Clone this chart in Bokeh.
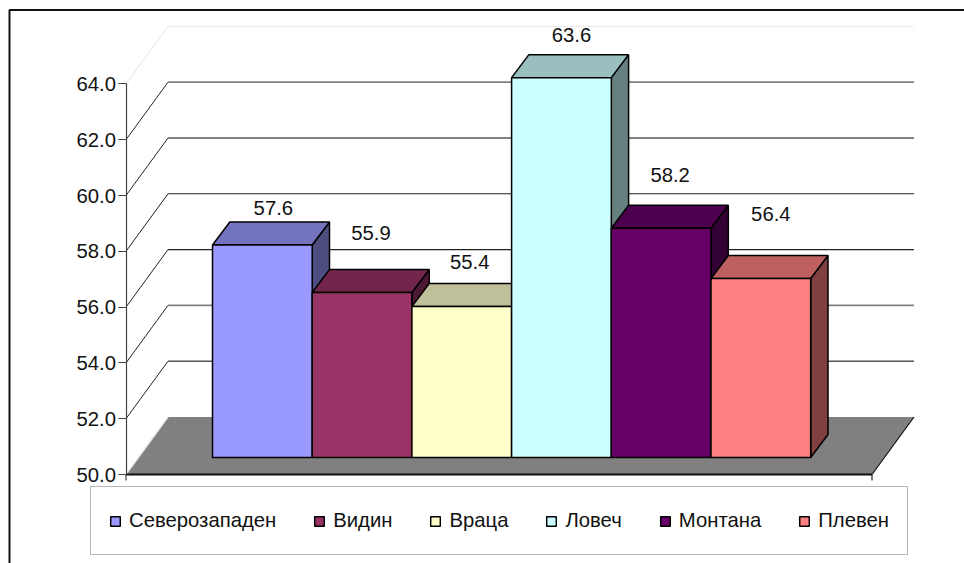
from bokeh.embed import file_html
from bokeh.resources import INLINE
from bokeh.plotting import figure
from bokeh.models import (ColumnDataSource, FixedTicker, Legend, LegendItem,
                          LinearAxis, NumeralTickFormatter, Range1d)

# ---- data -------------------------------------------------------------
categories = ["Северозападен", "Видин", "Враца", "Ловеч", "Монтана", "Плевен"]
values = [57.6, 55.9, 55.4, 63.6, 58.2, 56.4]
tick_values = [50, 52, 54, 56, 58, 60, 62, 64]

# ---- style ------------------------------------------------------------
front_colors = ["#9999FF", "#993366", "#FFFFCC", "#CCFFFF", "#660066", "#FF8080"]
top_colors = ["#7373BF", "#73264C", "#BFBF99", "#99BFBF", "#4D004D", "#BF6060"]
side_colors = ["#4D4D80", "#4D1A33", "#808066", "#668080", "#330033", "#804040"]
label_raise_px = [36, 59, 44, 42, 53, 64]
label_shift_px = [11, 9, 8, 10, 9, 10]
grid_colors = ["#808080", "#555555", "#808080", "#222222", "#222222", "#808080", "#808080", "#EDEDED"]
grid_widths = [1, 1.4, 1.8, 1.1, 1.1, 1.8, 1.8, 1.4]
diag_colors = ["#E8E8E8", "#222222", "#222222", "#222222", "#222222", "#222222", "#222222", "#E4E4E4"]
FONT = "Liberation Sans"
FONT_SIZE = "20.3px"

W, H = 964, 563
BAR_LEFT_PX, BAR_W_PX = 212, 99.7     # pixel position of bar 0 and width of one bar
BASE_PX, UNIT_PX = 474, 27.9          # pixel of value 50 on the axis and px per value unit

x_range = Range1d(-BAR_LEFT_PX / BAR_W_PX, (W - BAR_LEFT_PX) / BAR_W_PX)
y_range = Range1d(50 + (BASE_PX - H) / UNIT_PX, 50 + BASE_PX / UNIT_PX)


def dx(px):
    return px / BAR_W_PX


def dy(px):
    return px / UNIT_PX


def xp(px):
    return (px - BAR_LEFT_PX) / BAR_W_PX


def yp(px):
    return 50 + (BASE_PX - px) / UNIT_PX


AXIS_X = xp(125.5)
FLOOR_END_X = xp(871.5)
WALL_DX, WALL_DY = dx(42), dy(57.5)
BAR_DX, BAR_DY = dx(17.3), dy(23)
BAR_FRONT_DY = dy(17.4)

p = figure(width=W, height=H, x_range=x_range, y_range=y_range,
           output_backend="svg", toolbar_location=None,
           x_axis_location=None, y_axis_location=None,
           min_border=0, outline_line_color=None)
p.grid.visible = False
p.background_fill_color = "white"
p.border_fill_color = "white"

# chart border (only left/top fall inside the window)
p.line(x=[xp(9), xp(9), x_range.end], y=[y_range.start, yp(9.5), yp(9.5)],
       line_color="#111111", line_width=2)

# side wall diagonals and back wall grid
for v, c, dc, w in zip(tick_values, grid_colors, diag_colors, grid_widths):
    if v == 50:
        continue
    p.line(x=[AXIS_X, AXIS_X + WALL_DX], y=[v, v + WALL_DY], line_color=dc, line_width=1)
    p.line(x=[AXIS_X + WALL_DX, FLOOR_END_X + WALL_DX], y=[v + WALL_DY, v + WALL_DY],
           line_color=c, line_width=w)

# floor
p.patch(x=[AXIS_X, AXIS_X + WALL_DX, FLOOR_END_X + WALL_DX, FLOOR_END_X],
        y=[50, 50 + WALL_DY, 50 + WALL_DY, 50], fill_color="#808080", line_color=None)
p.line(x=[AXIS_X, AXIS_X + WALL_DX], y=[50, 50 + WALL_DY], line_color="#E8E8E8", line_width=1.3)
p.line(x=[FLOOR_END_X + WALL_DX, FLOOR_END_X], y=[50 + WALL_DY, 50], line_color="#111111", line_width=1.2)
p.line(x=[AXIS_X, FLOOR_END_X], y=[50, 50], line_color="#111111", line_width=2)
p.line(x=[FLOOR_END_X, FLOOR_END_X], y=[50, 50 - dy(6)], line_color="#222222", line_width=1.2)

# bars
legend_items = []
for i, (name, v) in enumerate(zip(categories, values)):
    x0, x1 = i, i + 1
    y0, y1 = 50 + dy(17), v + BAR_FRONT_DY
    p.patch(x=[x1, x1 + BAR_DX, x1 + BAR_DX, x1],
            y=[y0, y0 + BAR_DY, y1 + BAR_DY, y1],
            fill_color=side_colors[i], line_color="#000000", line_width=1.5)
    p.patch(x=[x0, x0 + BAR_DX, x1 + BAR_DX, x1],
            y=[y1, y1 + BAR_DY, y1 + BAR_DY, y1],
            fill_color=top_colors[i], line_color="#000000", line_width=1.5)
    r = p.quad(left=[x0], right=[x1], bottom=[y0], top=[y1],
               fill_color=front_colors[i], line_color="#000000", line_width=1.5)
    legend_items.append(LegendItem(label=name, renderers=[r]))

# value labels
src = ColumnDataSource(dict(
    x=[i + 0.5 + dx(s) for i, s in enumerate(label_shift_px)],
    y=[v + BAR_FRONT_DY + dy(r + 0.6) for v, r in zip(values, label_raise_px)],
    t=[f"{v:.1f}" for v in values]))
p.text(x="x", y="y", text="t", source=src, text_align="center", text_baseline="middle",
       text_font={"value": FONT}, text_font_size=FONT_SIZE, text_color="#111111")

# value axis
axis = LinearAxis(fixed_location=AXIS_X, ticker=FixedTicker(ticks=tick_values),
                  formatter=NumeralTickFormatter(format="0.0"), bounds=(50, 64))
axis.axis_line_color = "#444444"
axis.axis_line_width = 1.2
axis.major_tick_line_color = "#444444"
axis.major_tick_in = 0
axis.major_tick_out = 8
axis.minor_tick_line_color = None
axis.major_label_standoff = 2
axis.major_label_text_font = FONT
axis.major_label_text_font_size = FONT_SIZE
axis.major_label_text_color = "#111111"
p.add_layout(axis, "left")
p.line(x=[AXIS_X, AXIS_X], y=[50, 50 - dy(6)], line_color="#444444", line_width=1.2)

legend = Legend(items=legend_items, orientation="horizontal", location=(90, H - 555),
                spacing=37, padding=18, margin=0, glyph_width=12, glyph_height=12,
                label_standoff=8, label_height=31,
                label_text_font=FONT, label_text_font_size=FONT_SIZE, label_text_color="#111111",
                border_line_color="#707070", border_line_width=1.5,
                background_fill_color="white", background_fill_alpha=1)
p.add_layout(legend, "center")

open("out.html", "w").write(file_html(p, INLINE))
